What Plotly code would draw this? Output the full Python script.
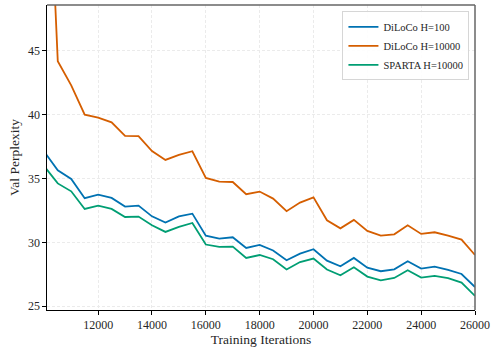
import plotly.graph_objects as go

iterations = [10000, 10500, 11000, 11500, 12000, 12500, 13000, 13500, 14000, 14500,
              15000, 15500, 16000, 16500, 17000, 17500, 18000, 18500, 19000, 19500,
              20000, 20500, 21000, 21500, 22000, 22500, 23000, 23500, 24000, 24500,
              25000, 25500, 26000]

diloco_h100 = [37.1, 35.65, 34.97, 33.46, 33.74, 33.48, 32.8, 32.88, 32.04, 31.55,
               32.04, 32.25, 30.53, 30.3, 30.4, 29.56, 29.8, 29.36, 28.6, 29.12,
               29.46, 28.57, 28.13, 28.78, 28.02, 27.74, 27.89, 28.52, 27.95, 28.1,
               27.84, 27.52, 26.5]

diloco_h10000 = [68.0, 44.2, 42.3, 40.0, 39.78, 39.41, 38.34, 38.32, 37.16, 36.46,
                 36.85, 37.14, 35.05, 34.76, 34.73, 33.77, 33.98, 33.43, 32.44, 33.12,
                 33.53, 31.73, 31.1, 31.76, 30.9, 30.53, 30.63, 31.34, 30.66, 30.79,
                 30.53, 30.22, 29.01]

sparta_h10000 = [35.95, 34.62, 34.0, 32.62, 32.88, 32.62, 31.99, 32.02, 31.34, 30.82,
                 31.21, 31.52, 29.83, 29.64, 29.67, 28.78, 29.01, 28.68, 27.87, 28.46,
                 28.73, 27.87, 27.42, 28.05, 27.32, 27.03, 27.21, 27.81, 27.24, 27.37,
                 27.19, 26.85, 25.8]

x_ticks = [12000, 14000, 16000, 18000, 20000, 22000, 24000, 26000]
y_ticks = [25, 30, 35, 40, 45]

series = [
    ("DiLoCo H=100", diloco_h100, "#0072B2"),
    ("DiLoCo H=10000", diloco_h10000, "#D55E00"),
    ("SPARTA H=10000", sparta_h10000, "#009E73"),
]

fig = go.Figure()
for name, vals, color in series:
    fig.add_trace(go.Scatter(x=iterations, y=vals, mode="lines", name=name,
                             line=dict(color=color, width=1.8)))

font_family = "Liberation Serif"
fig.update_layout(
    width=495, height=350,
    margin=dict(l=47, r=16, t=5, b=40),
    paper_bgcolor="white", plot_bgcolor="white",
    font=dict(family=font_family, size=12, color="#262626"),
    showlegend=True,
    legend=dict(x=0.987, y=0.979, xanchor="right", yanchor="top",
                bgcolor="rgba(255,255,255,0.9)", bordercolor="#d6d6d6", borderwidth=1,
                font=dict(family=font_family, size=10.5, color="#262626"),
                itemwidth=30, tracegroupgap=0),
)
grid = dict(showgrid=True, gridcolor="#ebebeb", griddash="3px,2px", gridwidth=0.8)
fig.update_xaxes(
    range=[10100, 26000], tickvals=x_ticks, tickformat="d",
    showline=True, linecolor="black", linewidth=1.2,
    ticks="outside", ticklen=3.5, tickcolor="black",
    zeroline=False,
    title=dict(text="Training Iterations", font=dict(size=13.5), standoff=3),
    tickfont=dict(size=12),
    **grid,
)
fig.update_yaxes(
    range=[24.7, 48.6], tickvals=y_ticks,
    showline=True, linecolor="black", linewidth=1.2,
    ticks="outside", ticklen=3.5, tickcolor="black",
    zeroline=False,
    title=dict(text="Val Perplexity", font=dict(size=13.5), standoff=5),
    tickfont=dict(size=12),
    **grid,
)
# gray top and right spines
fig.add_shape(type="line", xref="paper", yref="paper", x0=0, x1=1, y0=1, y1=1,
              line=dict(color="#666666", width=1.5))
fig.add_shape(type="line", xref="paper", yref="paper", x0=1, x1=1, y0=0, y1=1,
              line=dict(color="#666666", width=1.5))

fig.write_html("out.html",
               config={"displayModeBar": False},
               post_script="document.body.style.margin='0';document.body.style.padding='0';")
